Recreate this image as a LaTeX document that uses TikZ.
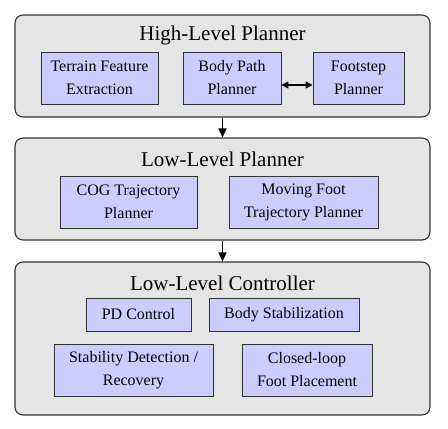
\documentclass[tikz,border=0pt]{standalone}
\usepackage{fontspec}
\setmainfont{Liberation Serif}
\usetikzlibrary{arrows.meta}
\definecolor{outerfill}{HTML}{E5E5E5}
\definecolor{innerfill}{HTML}{CCCCFF}
\definecolor{edgecol}{HTML}{333333}
\begin{document}
\begin{tikzpicture}[x=1pt,y=-1pt,
  layerbox/.style={draw=edgecol,fill=outerfill,line width=1.1pt,rounded corners=8pt,inner sep=0pt},
  modbox/.style={draw=edgecol,fill=innerfill,line width=0.9pt,inner sep=0pt,align=center,font=\fontsize{16}{23}\selectfont},
  titletext/.style={inner sep=0pt,font=\fontsize{21}{25}\selectfont},
  flow/.style={line width=1.4pt,-{Triangle[length=9pt,width=8pt]}},
  dflow/.style={line width=1.4pt,{Triangle[length=7pt,width=7pt]}-{Triangle[length=7pt,width=7pt]}}]
\useasboundingbox (0,0) rectangle (448,429);
% layers
\node[layerbox,minimum width=415pt,minimum height=102pt] (hl) at (222.5,66) {};
\node[layerbox,minimum width=415pt,minimum height=102pt] (ll) at (222.5,189) {};
\node[layerbox,minimum width=415pt,minimum height=153pt] (lc) at (222.5,338.5) {};
% titles
\node[titletext] (hlt) at (222.5,35) {High-Level Planner};
\node[titletext] (llt) at (222.5,159) {Low-Level Planner};
\node[titletext] (lct) at (222.5,283) {Low-Level Controller};
% high-level modules
\node[modbox,minimum width=117pt,minimum height=52pt] (terrain) at (99.5,78) {Terrain Feature\\Extraction};
\node[modbox,minimum width=98pt,minimum height=52pt] (body) at (232,78) {Body Path\\Planner};
\node[modbox,minimum width=91pt,minimum height=52pt] (foot) at (358.5,78) {Footstep\\Planner};
% low-level planner modules
\node[modbox,minimum width=137pt,minimum height=52pt] (cog) at (128.5,202) {COG Trajectory\\Planner};
\node[modbox,minimum width=149pt,minimum height=52pt] (moving) at (303.5,202) {Moving Foot\\Trajectory Planner};
% controller modules
\node[modbox,minimum width=105pt,minimum height=33pt] (pd) at (138.5,314.5) {PD Control};
\node[modbox,minimum width=150pt,minimum height=33pt] (bstab) at (284,314.5) {Body Stabilization};
\node[modbox,minimum width=159pt,minimum height=52pt] (stab) at (133.5,370) {Stability Detection /\\Recovery};
\node[modbox,minimum width=130pt,minimum height=52pt] (closed) at (307,370) {Closed-loop\\Foot Placement};
% connectors
\draw[dflow] (body.east |- 0,85) -- (foot.west |- 0,85);
\draw[flow] (hl.south) -- (ll.north);
\draw[flow] (ll.south) -- (lc.north);
\end{tikzpicture}
\end{document}
